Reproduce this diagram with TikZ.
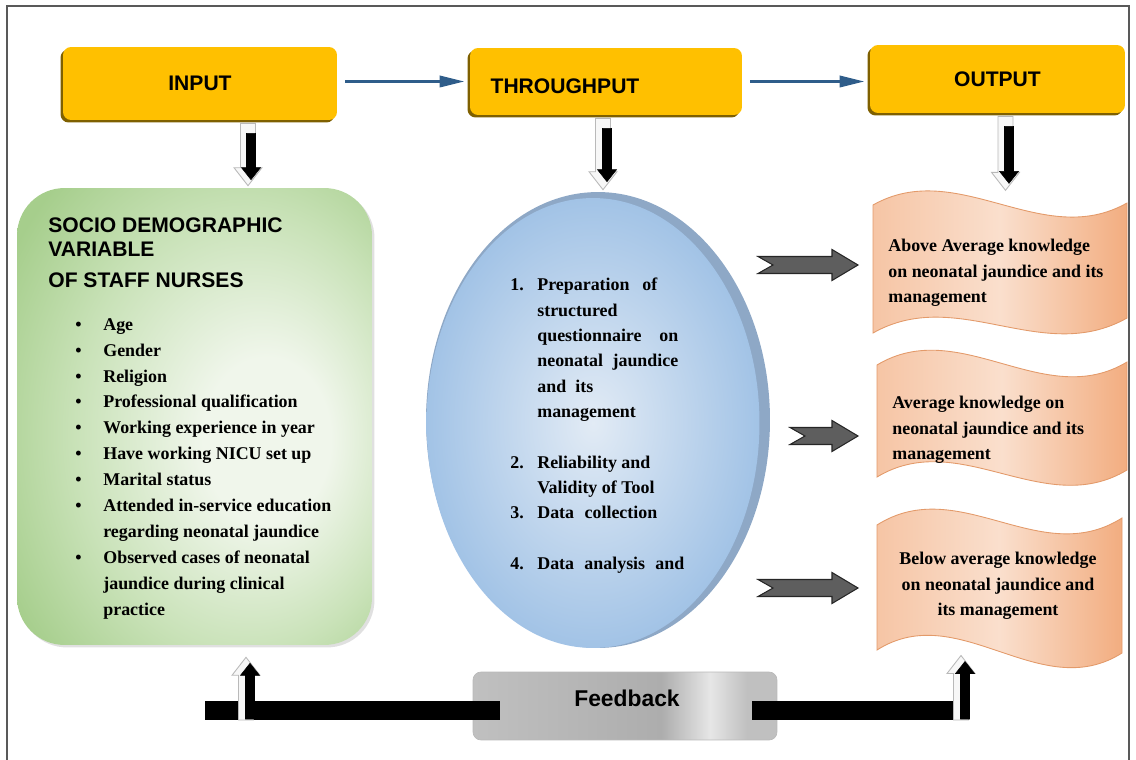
\documentclass[tikz,border=0pt]{standalone}
\usepackage{fontspec}
\setmainfont{Liberation Serif}
\newfontfamily\arialfam{Liberation Sans}
\usetikzlibrary{calc,arrows.meta,shadows,shapes.geometric}

\definecolor{ybox}{HTML}{FFC000}
\definecolor{yshadow}{HTML}{7F6000}
\definecolor{flowblue}{HTML}{2F5D8A}
\definecolor{greenD}{HTML}{A6CE8C}
\definecolor{greenM}{HTML}{C9E2B8}
\definecolor{greenL}{HTML}{F0F6EB}
\definecolor{ellRim}{HTML}{8EA8C6}
\definecolor{ellL}{HTML}{E2EBF5}
\definecolor{ellD}{HTML}{A2C3E6}
\definecolor{waveL}{HTML}{FADFCD}
\definecolor{waveM}{HTML}{F6C5A5}
\definecolor{waveD}{HTML}{F2AD80}
\definecolor{waveEdge}{HTML}{E39A6A}
\definecolor{fbA}{HTML}{C0C0C0}
\definecolor{fbB}{HTML}{ADADAD}
\definecolor{fbHi}{HTML}{E6E6E6}
\definecolor{notchfill}{HTML}{5E5E5E}

\newcommand\dgHead{\arialfam\bfseries\fontsize{12}{13.7}\selectfont}
\newcommand\dgBody{\bfseries\fontsize{10.2}{14.75}\selectfont}
\newcommand\dgProc{\bfseries\fontsize{10.2}{14.4}\selectfont}
\newcommand\dgWave{\bfseries\fontsize{10.2}{14.5}\selectfont}
\newcommand\dgBul{\makebox[0.56cm][l]{\textbullet}}
\newcommand\dgInd{\hspace*{0.56cm}}
\newcommand\dgNum[1]{\makebox[0.54cm][l]{#1}}
\newcommand\dgNInd{\hspace*{0.54cm}}

\pgfdeclarehorizontalshading{fbshade}{100bp}{color(0bp)=(fbA); color(25bp)=(fbA); color(56bp)=(fbB); color(64bp)=(fbHi); color(70bp)=(fbA); color(100bp)=(fbA)}
\pgfdeclareradialshading{greenglow}{\pgfpoint{12bp}{-3bp}}{color(0bp)=(greenL); color(9bp)=(greenL); color(24bp)=(greenM); color(36bp)=(greenD); color(60bp)=(greenD)}

% block arrow: [style]{start}{end}{shaft half width}{head half width}{head length}
\newcommand\blockarrow[6][]{%
  \coordinate (baS) at (#2);
  \coordinate (baE) at (#3);
  \coordinate (baH) at ($(baE)!#6!(baS)$);
  \filldraw[#1] ($(baS)!#4!90:(baE)$) -- ($(baH)!#4!90:(baE)$) -- ($(baH)!#5!90:(baE)$)
    -- (baE) -- ($(baH)!#5!-90:(baE)$) -- ($(baH)!#4!-90:(baE)$) -- ($(baS)!#4!-90:(baE)$) -- cycle;}

% notched block arrow pointing right
\newcommand\notcharrow[2]{%
  \filldraw[notched] let \p1=(#1), \p2=(#2) in
    (\x1,\y1+0.17cm) -- (\x2-0.52cm,\y1+0.17cm) -- (\x2-0.52cm,\y1+0.31cm) -- (\x2,\y1)
    -- (\x2-0.52cm,\y1-0.31cm) -- (\x2-0.52cm,\y1-0.17cm) -- (\x1,\y1-0.17cm) -- (\x1+0.3cm,\y1) -- cycle;}

\begin{document}
\begin{tikzpicture}[x=0.02cm,y=-0.02cm,
  phase/.style={rectangle, rounded corners=0.16cm, fill=ybox, inner sep=0pt, font=\dgHead,
    general shadow={fill=yshadow, shadow xshift=-0.05cm, shadow yshift=-0.05cm}},
  flow/.style={draw=flowblue, line width=1.9pt, -{Triangle[length=0.5cm,width=0.22cm]},
    shorten <=0.16cm, shorten >=0.1cm},
  hollowtip/.style={fill=gray!6, draw=gray!55, line width=0.5pt},
  solidtip/.style={fill=black, draw=black, line width=0.3pt},
  notched/.style={fill=notchfill, draw=black!85, line width=0.6pt},
  wavebox/.style={draw=waveEdge, line width=0.5pt, left color=waveM, right color=waveD, middle color=waveL},
  txt/.style={inner sep=0pt, align=left},
  fbbar/.style={line width=0.38cm, black}]

\useasboundingbox (0,0) rectangle (1136,760);
\draw[gray!70!black, line width=1pt] (7,760) -- (7,6) -- (1129,6) -- (1129,760);

% phase headers
\node[phase, minimum width=5.48cm, minimum height=1.46cm] (input) at (200,83.5) {INPUT};
\node[phase, minimum width=5.44cm, minimum height=1.34cm] (through) at (606,81.5) {};
\node[txt, font=\dgHead] (throughtxt) at (565,86) {THROUGHPUT};
\node[phase, minimum width=5.1cm, minimum height=1.36cm] (output) at (997.5,79) {OUTPUT};

\draw[flow] (input.east |- through.west) -- (through.west);
\draw[flow] (through.east) -- (output.west |- through.east);

% input block
\node[rounded corners=0.95cm, minimum width=7.1cm, minimum height=9.14cm, shading=greenglow,
  general shadow={fill=black!12, shadow xshift=0.05cm, shadow yshift=-0.05cm}] (socio) at (194.5,416.5) {};
\node[txt, font=\dgHead, anchor=north west] (sociohead) at (48,217)
  {SOCIO DEMOGRAPHIC\\VARIABLE\\[4pt]OF STAFF NURSES};
\node[txt, font=\dgBody, anchor=north west] (vars) at (75,318)
  {\dgBul Age\\
   \dgBul Gender\\
   \dgBul Religion\\
   \dgBul Professional qualification\\
   \dgBul Working experience in year\\
   \dgBul Have working NICU set up\\
   \dgBul Marital status\\
   \dgBul Attended in-service education\\
   \dgInd regarding neonatal jaundice\\
   \dgBul Observed cases of neonatal\\
   \dgInd jaundice during clinical\\
   \dgInd practice};

% throughput ellipse
\node[ellipse, fill=ellRim, minimum width=6.88cm, minimum height=9.12cm, inner sep=0pt] (proc) at (598,420) {};
\node[ellipse, inner color=ellL, outer color=ellD, minimum width=6.66cm, minimum height=9.0cm, inner sep=0pt] (procin) at (593,423) {};
\node[txt, font=\dgProc, anchor=north west] (steps) at (510,278)
  {\dgNum{1.}\makebox[2.4cm][s]{Preparation of}\\
   \dgNInd structured\\
   \dgNInd\makebox[2.82cm][s]{questionnaire on}\\
   \dgNInd\makebox[2.82cm][s]{neonatal jaundice}\\
   \dgNInd\makebox[1.12cm][s]{and its}\\
   \dgNInd management\\[14.4pt]
   \dgNum{2.}Reliability and\\
   \dgNInd Validity of Tool\\
   \dgNum{3.}\makebox[2.4cm][s]{Data collection}\\[14.4pt]
   \dgNum{4.}\makebox[2.94cm][s]{Data analysis and}};

% output waves
\path[wavebox] (873,205) .. controls (958,157) and (1042,251) .. (1127,203) -- (1127,318)
  .. controls (1042,366) and (958,285) .. (873,333) -- cycle;
\path[wavebox] (877,365) .. controls (960,315) and (1044,412) .. (1127,362) -- (1127,470)
  .. controls (1044,520) and (960,427) .. (877,477) -- cycle;
\path[wavebox] (877,525) .. controls (959,473) and (1040,570) .. (1122,518) -- (1122,653)
  .. controls (1040,705) and (959,598) .. (877,650) -- cycle;
\node[txt, font=\dgWave, anchor=north west] (out1) at (888,239)
  {Above Average knowledge\\on neonatal jaundice and its\\management};
\node[txt, font=\dgWave, anchor=north west] (out2) at (892,396)
  {Average knowledge on\\neonatal jaundice and its\\management};
\node[txt, font=\dgWave, align=center, anchor=north] (out3) at (998,552)
  {Below average knowledge\\on neonatal jaundice and\\its management};

% arrows from process to outcomes
\coordinate (g1s) at (758,265); \coordinate (g1e) at (858,265);
\coordinate (g2s) at (790,436); \coordinate (g2e) at (858,436);
\coordinate (g3s) at (758,588); \coordinate (g3e) at (858,588);
\notcharrow{g1s}{g1e}
\notcharrow{g2s}{g2e}
\notcharrow{g3s}{g3e}

% downward arrows
\blockarrow[hollowtip]{$(input.south)+(48,3)$}{$(socio.north)+(53.5,-2)$}{0.15cm}{0.28cm}{0.36cm}
\blockarrow[solidtip]{$(input.south)+(51,13)$}{$(socio.north)+(56.5,-8)$}{0.09cm}{0.19cm}{0.24cm}
\blockarrow[hollowtip]{$(through.south)+(-3,3)$}{$(proc.north)+(5,-2)$}{0.15cm}{0.28cm}{0.36cm}
\blockarrow[solidtip]{$(through.south)+(1,13)$}{$(proc.north)+(9,-10)$}{0.09cm}{0.19cm}{0.24cm}
\blockarrow[hollowtip]{$(output.south)+(8,3)$}{$(output.south)+(8,77)$}{0.15cm}{0.28cm}{0.36cm}
\blockarrow[solidtip]{$(output.south)+(11.5,13)$}{$(output.south)+(11.5,70)$}{0.09cm}{0.19cm}{0.24cm}

% feedback loop
\node[rounded corners=0.16cm, minimum width=6.08cm, minimum height=1.36cm, shading=fbshade,
  draw=gray!55, line width=0.4pt] (fb) at (625,706) {};
\node[inner sep=0pt, font=\arialfam\bfseries\fontsize{13}{15}\selectfont] (fbtxt) at (627,698) {Feedback};
\coordinate (fbL) at ($(fb.west)+(27,4.5)$);
\coordinate (barL) at (205,710.5);
\coordinate (fbR) at ($(fb.east)+(-25,4.5)$);
\coordinate (barR) at (962,710.5);
\draw[fbbar] (fbL) -- (barL);
\draw[fbbar] (fbR) -- (barR);
\blockarrow[hollowtip]{$(barL)+(41,9.5)$}{$(socio.south)+(51.5,12)$}{0.15cm}{0.28cm}{0.36cm}
\blockarrow[solidtip]{$(barL)+(45,8.5)$}{$(socio.south)+(55.5,18)$}{0.09cm}{0.19cm}{0.24cm}
\blockarrow[hollowtip]{$(barR)+(-1,9.5)$}{$(barR)+(-1,-55)$}{0.15cm}{0.28cm}{0.36cm}
\blockarrow[solidtip]{$(barR)+(3,8.5)$}{$(barR)+(3,-49)$}{0.09cm}{0.19cm}{0.24cm}
\end{tikzpicture}
\end{document}
